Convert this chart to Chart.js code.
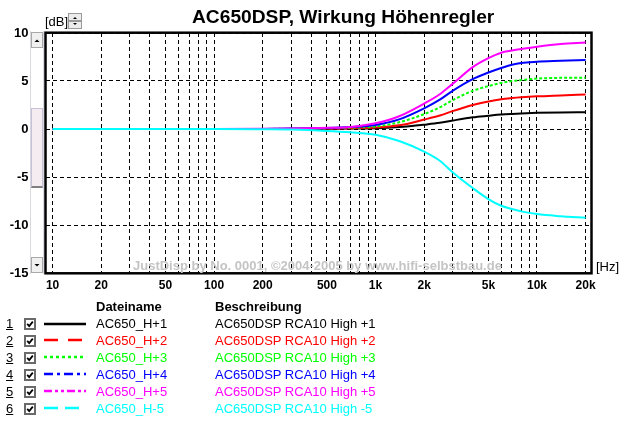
<!DOCTYPE html>
<html>
<head>
<meta charset="utf-8">
<title>AC650DSP, Wirkung Höhenregler</title>
<script src="https://cdn.jsdelivr.net/npm/chart.js@4.4.1/dist/chart.umd.min.js"></script>
<style>
  body { margin: 0; background: #fff; font-family: "Liberation Sans", Arial, sans-serif; }
  #wrap { position: relative; width: 624px; height: 421px; overflow: hidden; }
  #chart { position: absolute; left: 0; top: 0; }
  .abs { position: absolute; white-space: nowrap; line-height: 1; }
  .sb { position: absolute; box-sizing: border-box; }
</style>
</head>
<body>
<div id="wrap">
  <canvas id="chart" width="624" height="421"></canvas>

  <div class="abs" style="left:192px; top:7px; font-size:19.2px; font-weight:bold;">AC650DSP, Wirkung Höhenregler</div>
  <div class="abs" style="left:45px; top:15px; font-size:13px;">[dB]</div>
  <div class="abs" style="left:596px; top:260px; font-size:13px;">[Hz]</div>
  <div class="abs" style="left:133px; top:259px; font-size:13px; font-weight:bold; color:#c4c4c4;">JustDisp by No. 0001, ©2004-2005 by www.hifi-selbstbau.de</div>

  <!-- little spin button next to [dB] -->
  <div class="sb" style="left:68px; top:13px; width:14px; height:8px; background:#ececec; border:1px solid #9a9a9a;"></div>
  <div class="sb" style="left:68px; top:21px; width:14px; height:8px; background:#ececec; border:1px solid #9a9a9a;"></div>
  <svg class="sb" style="left:68px; top:13px;" width="14" height="16">
    <path d="M5 6 L7 4 L9 6 Z" fill="#000"/>
    <path d="M5 10 L7 12 L9 10 Z" fill="#000"/>
  </svg>

  <!-- vertical scrollbar left of the plot -->
  <div class="sb" style="left:30px; top:31px; width:14px; height:243px; background:#fff; border-left:1px solid #d8d8e0; border-right:1px solid #d8d8e0;"></div>
  <div class="sb" style="left:31px; top:32px; width:12px; height:16px; background:#f0f0f0; border:1px solid #a8a8a8;"></div>
  <div class="sb" style="left:31px; top:108px; width:12px; height:80px; background:#f4ecf1; border:1px solid #c8c0d4; border-bottom:2px solid #808080;"></div>
  <div class="sb" style="left:31px; top:257px; width:12px; height:16px; background:#f0f0f0; border:1px solid #a8a8a8;"></div>
  <svg class="sb" style="left:31px; top:32px;" width="12" height="241">
    <path d="M3.5 10 L6 7.5 L8.5 10 Z" fill="#000"/>
    <path d="M3.5 232 L6 234.5 L8.5 232 Z" fill="#000"/>
  </svg>

  <div class="abs" style="left:96px; top:300px; font-size:13px; font-weight:bold;">Dateiname</div>
  <div class="abs" style="left:215px; top:300px; font-size:13px; font-weight:bold;">Beschreibung</div>
  <div id="legend"></div>
</div>

<script>
const freqs = [10, 100, 200, 300, 500, 700, 1000, 1400, 2000, 2500, 3000, 4000, 5000, 6000, 7000, 8000, 10000, 14000, 20000];

// level in dB for each file
const h1 = [0, 0, 0, 0.01, 0.02, 0.04, 0.07, 0.2, 0.45, 0.64, 0.88, 1.22, 1.38, 1.5, 1.57, 1.62, 1.68, 1.73, 1.74];
const h2 = [0, 0, 0, 0.02, 0.05, 0.09, 0.15, 0.38, 0.98, 1.4, 1.86, 2.5, 2.87, 3.1, 3.22, 3.3, 3.4, 3.5, 3.6];
const h3 = [0, 0, 0.01, 0.03, 0.08, 0.14, 0.26, 0.7, 1.55, 2.25, 3.0, 3.97, 4.47, 4.8, 5.0, 5.1, 5.25, 5.33, 5.35];
const h4 = [0, 0, 0.01, 0.04, 0.1, 0.2, 0.42, 1.0, 2.15, 3.05, 3.98, 5.2, 5.88, 6.35, 6.7, 6.88, 7.0, 7.1, 7.2];
const h5 = [0, 0, 0.02, 0.05, 0.12, 0.22, 0.6, 1.33, 2.65, 3.62, 4.7, 6.45, 7.38, 7.95, 8.17, 8.33, 8.57, 8.85, 9.0];
const hm5 = [0, 0, -0.03, -0.06, -0.2, -0.35, -0.6, -1.25, -2.35, -3.3, -4.5, -6.15, -7.3, -8.0, -8.33, -8.58, -8.86, -9.08, -9.24];

const fileNames = ['AC650_H+1', 'AC650_H+2', 'AC650_H+3', 'AC650_H+4', 'AC650_H+5', 'AC650_H-5'];
const descriptions = ['AC650DSP RCA10 High +1', 'AC650DSP RCA10 High +2', 'AC650DSP RCA10 High +3',
                      'AC650DSP RCA10 High +4', 'AC650DSP RCA10 High +5', 'AC650DSP RCA10 High -5'];
const colors = ['#000000', '#ff0000', '#00ff00', '#0000ff', '#ff00ff', '#00ffff'];
const legendDash = ['', '14 10', '3 3', '9 4 3 4', '8 3 3 3 3 3', '14 7'];

// x axis: grid at every 1..9 step, labels only at 1-2-5
const gridFreqs = [10, 20, 30, 40, 50, 60, 70, 80, 90,
                   100, 200, 300, 400, 500, 600, 700, 800, 900,
                   1000, 2000, 3000, 4000, 5000, 6000, 7000, 8000, 9000,
                   10000, 20000];
const labelFreqs = [10, 20, 50, 100, 200, 500, 1000, 2000, 5000, 10000, 20000];
const labelTexts = ['10', '20', '50', '100', '200', '500', '1k', '2k', '5k', '10k', '20k'];

const series = [h1, h2, h3, h4, h5, hm5];

// thick black frame round the plot
const frame = {
    id: 'frame',
    afterDraw(chart) {
        const a = chart.chartArea;
        const c = chart.ctx;
        c.save();
        c.strokeStyle = '#000';
        c.lineWidth = 2.5;
        c.strokeRect(a.left - 0.5, a.top - 0.3, a.right - a.left + 1, a.bottom - a.top + 0.6);
        c.restore();
    }
};

document.addEventListener('DOMContentLoaded', function () {
    const datasets = series.map((s, i) => ({
        label: fileNames[i],
        data: freqs.map((f, j) => ({ x: f, y: s[j] })),
        borderColor: colors[i],
        borderWidth: 2,
        borderDash: i === 2 ? [3, 2] : [],
        pointRadius: 0,
        fill: false,
        order: series.length - i, // later files are drawn on top
        cubicInterpolationMode: 'monotone'
    }));

    new Chart(document.getElementById('chart'), {
        type: 'line',
        data: { datasets: datasets },
        options: {
            responsive: false,
            animation: false,
            layout: { padding: { top: 33, right: 33, left: 0, bottom: 0 } },
            plugins: { legend: { display: false }, tooltip: { enabled: false } },
            scales: {
                x: {
                    type: 'logarithmic',
                    min: 9.1,
                    max: 21600,
                    afterFit: s => { s.height = 148; },
                    afterBuildTicks: s => { s.ticks = gridFreqs.map(v => ({ value: v })); },
                    grid: { color: '#000', lineWidth: 1, drawTicks: false },
                    border: { display: false, dash: [4, 3] },
                    ticks: {
                        autoSkip: false,
                        maxRotation: 0,
                        minRotation: 0,
                        padding: 5,
                        color: '#000',
                        font: { family: 'Liberation Sans, Arial', size: 12, weight: 'bold' },
                        callback: v => {
                            const k = labelFreqs.indexOf(v);
                            return k >= 0 ? labelTexts[k] : '';
                        }
                    }
                },
                y: {
                    min: -15,
                    max: 10,
                    afterFit: s => { s.width = 46; },
                    grid: { color: '#000', lineWidth: 1, drawTicks: false },
                    border: { display: false, dash: [4, 3] },
                    ticks: {
                        stepSize: 5,
                        padding: 17.5,
                        color: '#000',
                        font: { family: 'Liberation Sans, Arial', size: 13, weight: 'bold' },
                        callback: v => String(v)
                    }
                }
            }
        },
        plugins: [frame]
    });

    // legend table below the chart
    const legend = document.getElementById('legend');
    fileNames.forEach((name, i) => {
        const top = 317 + 16.95 * i;
        const mid = top + 6.5;
        legend.insertAdjacentHTML('beforeend',
            `<div class="abs" style="left:6px; top:${top}px; font-size:13px; text-decoration:underline;">${i + 1}</div>` +
            `<svg class="sb" style="left:24px; top:${mid - 5.5}px;" width="12" height="12">` +
            `<rect x="1" y="1" width="10" height="10" fill="#fff" stroke="#6a6a6a" stroke-width="2"/>` +
            `<path d="M3.2 5.8 L5.2 8 L8.8 3.6" fill="none" stroke="#000" stroke-width="1.8"/></svg>` +
            `<svg class="sb" style="left:44px; top:${mid - 3}px;" width="42" height="6">` +
            `<line x1="0" y1="3" x2="42" y2="3" stroke="${colors[i]}" stroke-width="2.5" stroke-dasharray="${legendDash[i]}"/></svg>` +
            `<div class="abs" style="left:96px; top:${top}px; font-size:13px; color:${colors[i]};">${name}</div>` +
            `<div class="abs" style="left:215px; top:${top}px; font-size:13px; color:${colors[i]};">${descriptions[i]}</div>`);
    });
});
</script>
</body>
</html>
